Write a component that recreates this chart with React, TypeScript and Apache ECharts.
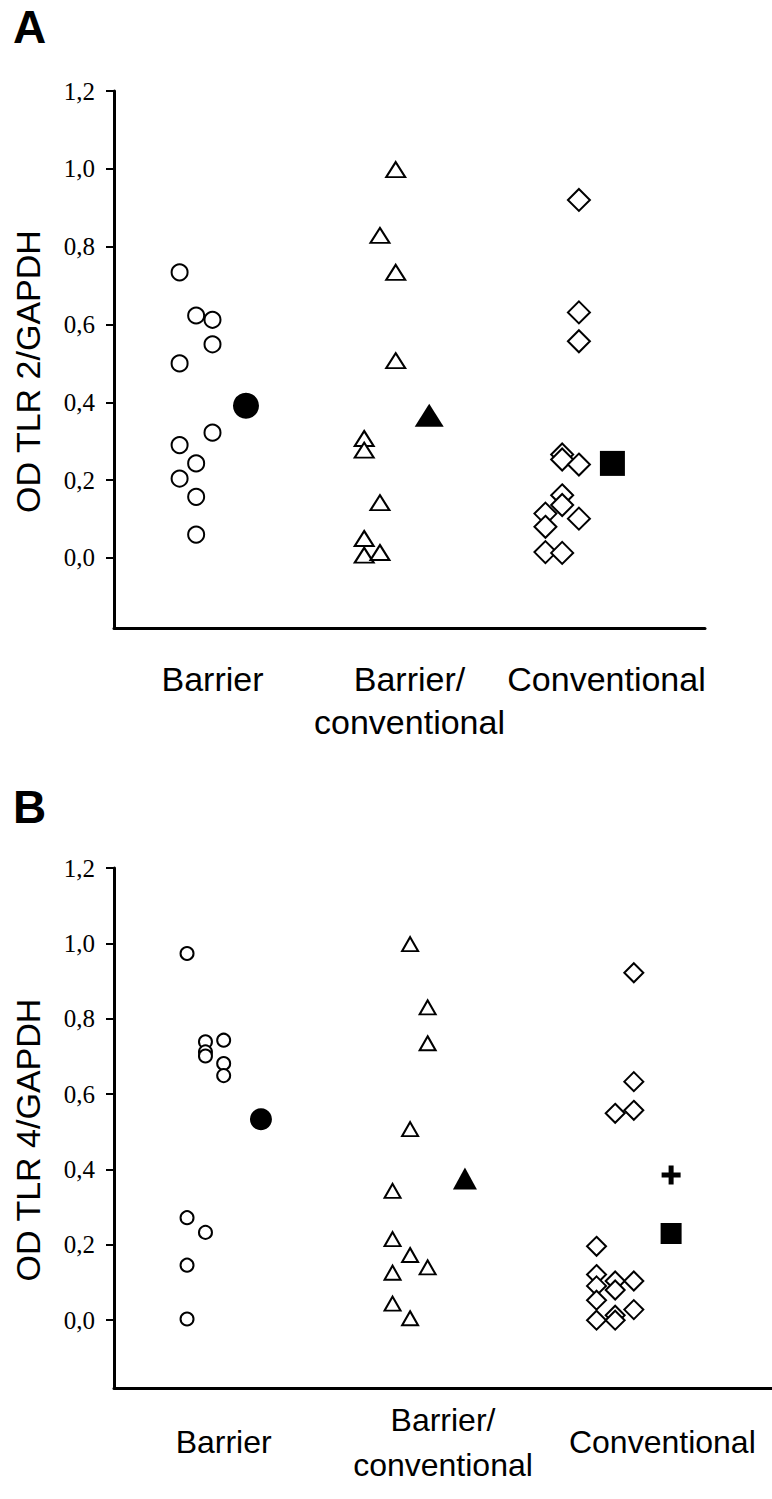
import React, { useEffect, useRef } from 'react';
import * as echarts from 'echarts';

// ---------- data ----------
const categories = ['Barrier', 'Barrier/\nconventional', 'Conventional'];
const yTickValues = [0, 0.2, 0.4, 0.6, 0.8, 1.0, 1.2];
const yAxisTitles = ['OD TLR 2/GAPDH', 'OD TLR 4/GAPDH'];
const panelLetters = ['A', 'B'];

// Panel A – OD TLR 2/GAPDH, points as [jittered x position, value]
const tlr2Barrier = [[0.333, 0.734], [0.417, 0.623], [0.5, 0.612], [0.5, 0.549], [0.333, 0.5], [0.5, 0.322], [0.333, 0.29], [0.417, 0.243], [0.333, 0.204], [0.417, 0.157], [0.417, 0.06]];
const tlr2BarrierMean = [[0.67, 0.391]];
const tlr2Mixed = [[1.43, 0.998], [1.35, 0.829], [1.43, 0.734], [1.43, 0.507], [1.27, 0.307], [1.27, 0.277], [1.35, 0.142], [1.27, 0.05], [1.27, 0.007], [1.35, 0.014]];
const tlr2MixedMean = [[1.6, 0.367]];
const tlr2Conv = [[2.36, 0.92], [2.36, 0.631], [2.36, 0.557], [2.275, 0.266], [2.275, 0.253], [2.36, 0.24], [2.275, 0.161], [2.275, 0.136], [2.19, 0.114], [2.36, 0.101], [2.19, 0.08], [2.19, 0.015], [2.275, 0.013]];
const tlr2ConvMean = [[2.53, 0.243]];

// Panel B – OD TLR 4/GAPDH
const tlr4Barrier = [[0.333, 0.973], [0.5, 0.743], [0.417, 0.739], [0.417, 0.712], [0.417, 0.701], [0.5, 0.681], [0.5, 0.649], [0.333, 0.272], [0.417, 0.233], [0.333, 0.146], [0.333, 0.003]];
const tlr4BarrierMean = [[0.67, 0.533]];
const tlr4Mixed = [[1.35, 0.998], [1.43, 0.83], [1.43, 0.735], [1.35, 0.507], [1.27, 0.343], [1.27, 0.215], [1.35, 0.173], [1.43, 0.14], [1.27, 0.126], [1.27, 0.044], [1.35, 0.005]];
const tlr4MixedMean = [[1.6, 0.376]];
const tlr4Conv = [[2.37, 0.922], [2.37, 0.633], [2.37, 0.557], [2.285, 0.549], [2.2, 0.196], [2.2, 0.121], [2.285, 0.104], [2.37, 0.104], [2.2, 0.091], [2.285, 0.08], [2.2, 0.053], [2.37, 0.028], [2.2, 0.0], [2.285, 0.013], [2.285, 0.0]];
const tlr4ConvMean = [[2.54, 0.23]];
const tlr4ConvPlus = [[2.54, 0.385]];

const PLUS = 'path://M7,0H12V7H19V12H12V19H7V12H0V7H7Z';
const SANS = '"Liberation Sans", Arial, sans-serif';
const SERIF = '"Liberation Serif", "Times New Roman", serif';

const fmt = (v: number) => v.toFixed(1).replace('.', ',');

export default function App() {
  const ref = useRef<HTMLDivElement>(null);
  useEffect(() => {
    if (!ref.current) return;
    const chart = echarts.init(ref.current, undefined, { renderer: 'svg' });

    const grids = [
      { left: 114, top: 91, width: 591, height: 537 },
      { left: 114, top: 868, width: 658, height: 520 },
    ];

    const catAxis = (gi: number, fontSize: number, lineHeight: number, margin: number, va: string) => ({
      type: 'category',
      gridIndex: gi,
      data: categories,
      position: 'bottom',
      boundaryGap: true,
      axisLine: { onZero: false, lineStyle: { color: '#000', width: 3 } },
      axisTick: { show: false },
      splitLine: { show: false },
      axisLabel: {
        color: '#000', fontFamily: SANS, fontSize, lineHeight, margin,
        verticalAlign: va, interval: 0,
      },
    });
    const valXAxis = (gi: number) => ({
      type: 'value', gridIndex: gi, min: 0, max: 3, show: false,
    });
    const yAxis = (gi: number) => ({
      type: 'value',
      gridIndex: gi,
      min: -0.18,
      max: 1.2,
      name: yAxisTitles[gi],
      nameLocation: 'middle',
      nameRotate: 90,
      nameGap: 69,
      nameTextStyle: { color: '#000', fontFamily: SANS, fontSize: 34, padding: [0, 24, 0, 0] },
      axisLine: { show: true, onZero: false, lineStyle: { color: '#000', width: 3 } },
      axisTick: { show: true, length: 8, customValues: yTickValues, lineStyle: { color: '#000', width: 2 } },
      axisLabel: {
        color: '#000', fontFamily: SERIF, fontSize: 25, margin: 19,
        customValues: yTickValues, formatter: (v: number) => fmt(v),
      },
      splitLine: { show: false },
    });

    const open = { color: '#fff', borderColor: '#000', borderWidth: 2 };
    const filled = { color: '#000', borderWidth: 0 };
    const sc = (xi: number, yi: number, data: number[][], symbol: string, size: any, style: any) => ({
      type: 'scatter', xAxisIndex: xi, yAxisIndex: yi, data, symbol, symbolSize: size,
      itemStyle: { ...style, opacity: 1 }, silent: true,
    });

    const series = [
      // Panel A (value x-axis index 1, y-axis 0)
      sc(1, 0, tlr2Barrier, 'circle', 16, open),
      sc(1, 0, tlr2BarrierMean, 'circle', 26, filled),
      sc(1, 0, tlr2Mixed, 'triangle', [19, 15], open),
      sc(1, 0, tlr2MixedMean, 'triangle', [29, 23], filled),
      sc(1, 0, tlr2Conv, 'diamond', [22, 22], open),
      sc(1, 0, tlr2ConvMean, 'rect', 25, filled),
      // Panel B (value x-axis index 3, y-axis 1)
      sc(3, 1, tlr4Barrier, 'circle', 13, open),
      sc(3, 1, tlr4BarrierMean, 'circle', 22, filled),
      sc(3, 1, tlr4Mixed, 'triangle', [16, 14], open),
      sc(3, 1, tlr4MixedMean, 'triangle', [24, 22], filled),
      sc(3, 1, tlr4Conv, 'diamond', [19, 19], open),
      sc(3, 1, tlr4ConvMean, 'rect', 21, filled),
      sc(3, 1, tlr4ConvPlus, PLUS, 19, filled),
    ];

    chart.setOption({
      animation: false,
      backgroundColor: '#fff',
      grid: grids,
      xAxis: [
        catAxis(0, 34, 43, 29, 'top'),
        valXAxis(0),
        catAxis(1, 32, 45, 54, 'middle'),
        valXAxis(1),
      ],
      yAxis: [yAxis(0), yAxis(1)],
      series,
      graphic: [
        { type: 'text', left: 13, top: 4, style: { text: panelLetters[0], font: `bold 46px ${SANS}`, fill: '#000' } },
        { type: 'text', left: 13, top: 784, style: { text: panelLetters[1], font: `bold 46px ${SANS}`, fill: '#000' } },
      ],
    });
    return () => chart.dispose();
  }, []);
  return <div ref={ref} style={{ position: 'absolute', left: 0, top: 0, width: 772, height: 1499 }} />;
}
